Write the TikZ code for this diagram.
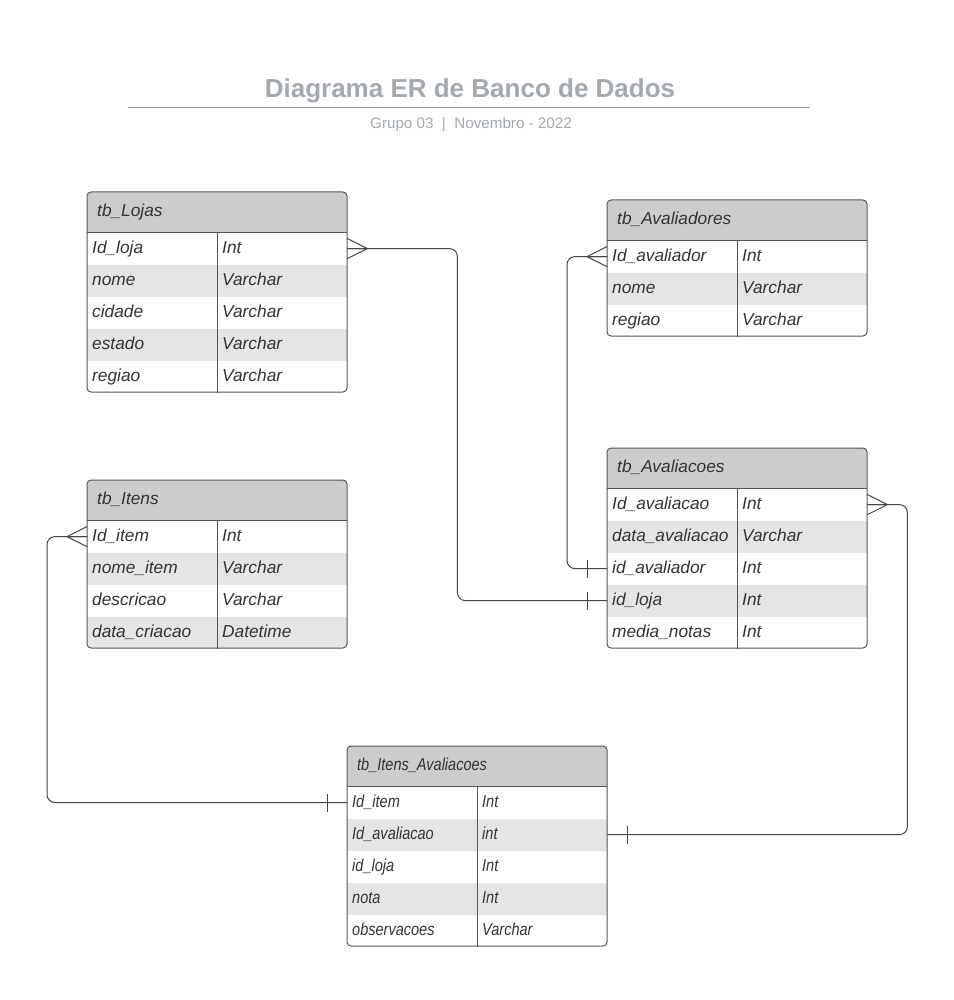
\documentclass[tikz,border=0pt]{standalone}
\usepackage{fontspec}
\setmainfont{Liberation Sans}
\newfontfamily\estreita[FakeStretch=0.84]{Liberation Sans}
\usepackage{xcolor}
\usetikzlibrary{calc}

\definecolor{cabecalho}{HTML}{CCCCCC}
\definecolor{zebra}{HTML}{E5E5E5}
\definecolor{borda}{HTML}{555555}
\definecolor{texto}{HTML}{333333}
\definecolor{cinzatitulo}{HTML}{A3A9AE}

\newcommand{\fonte}{\normalfont}

\tikzset{
    cabec/.style={anchor=north west, minimum width=260pt, minimum height=40pt, inner sep=0pt, fill=cabecalho},
    linha/.style={anchor=north west, minimum width=260pt, minimum height=32pt, inner sep=0pt},
    campo/.style={anchor=base west, inner sep=0pt, text=texto, font=\fonte\fontsize{17.3}{20}\selectfont\itshape},
    contorno/.style={draw=borda, line width=1pt},
    conector/.style={draw=borda!80!black, line width=1pt},
    titulo/.style={anchor=base, inner sep=0pt, text=cinzatitulo, font=\bfseries\fontsize{26}{30}\selectfont},
    subtitulo/.style={anchor=base, inner sep=0pt, text=cinzatitulo, font=\fontsize{15.2}{18}\selectfont},
    muitos/.pic={\draw[conector] (0,-10) -- (20,0) -- (0,10) (0,0) -- (20,0);},
    um/.pic={\draw[conector] (20,-9) -- (20,9);}
}

% #1 nome, #2 canto, #3 linhas, #4 titulo, #5 campos
\newcommand{\tabela}[5]{%
        \begin{scope}
            \clip[rounded corners=4pt] #2 rectangle ++(260,{40+32*#3});
            \node[cabec] (#1) at #2 {};
            \foreach \campo/\tipo [count=\i] in {#5} {
                \ifodd\i \def\cor{white}\else \def\cor{zebra}\fi
                \node[linha, fill=\cor] (#1-\i) at ($(#1.south west)+(0,{32*(\i-1)})$) {};
            }
        \end{scope}
        \node[campo] (#1-nome) at ($(#1.west)+(10,4)$) {#4};
        \foreach \campo/\tipo [count=\i] in {#5} {
            \node[campo] (#1-\i-c) at ($(#1-\i.west)+(5,5)$) {\campo};
            \node[campo] (#1-\i-t) at ($(#1-\i.west)+(135,5)$) {\tipo};
        }
        \draw[contorno] (#1.south west) -- (#1.south east);
        \draw[contorno] ($(#1-1.north west)+(130,0)$) -- ($(#1-#3.south west)+(130,0)$);
        \draw[contorno, rounded corners=4pt] #2 rectangle ++(260,{40+32*#3});
}

\begin{document}
\begin{tikzpicture}[x=1pt, y=-1pt]
        \fill[white] (0,0) rectangle (953,1000);
        \useasboundingbox (0,0) rectangle (953,1000);

        \node[titulo] (titulo) at (470,98) {Diagrama ER de Banco de Dados};
        \draw[draw=cinzatitulo!90!black, line width=1.6pt] (128,107.5) -- (810,107.5);
        \node[subtitulo] (subtitulo) at (471,129) {Grupo 03\ \ |\ \ Novembro - 2022};

        \tabela{lojas}{(87,192)}{5}{tb\_Lojas}{Id\_loja/Int, nome/Varchar, cidade/Varchar, estado/Varchar, regiao/Varchar}
        \tabela{avaliadores}{(607,200)}{3}{tb\_Avaliadores}{Id\_avaliador/Int, nome/Varchar, regiao/Varchar}
        \tabela{avaliacoes}{(607,448)}{5}{tb\_Avaliacoes}{Id\_avaliacao/Int, data\_avaliacao/Varchar, id\_avaliador/Int, id\_loja/Int, media\_notas/Int}
        \tabela{itens}{(87,480)}{4}{tb\_Itens}{Id\_item/Int, nome\_item/Varchar, descricao/Varchar, data\_criacao/Datetime}
        \begin{scope}
            \renewcommand{\fonte}{\estreita}
            \tabela{itensaval}{(347,746)}{5}{tb\_Itens\_Avaliacoes}{Id\_item/Int, Id\_avaliacao/int, id\_loja/Int, nota/Int, observacoes/Varchar}
        \end{scope}

        \draw[conector, rounded corners=8pt] (lojas-1.east) -- ++(110,0) |- (avaliacoes-4.west);
        \pic at (lojas-1.east) {muitos};
        \pic[rotate=180] at (avaliacoes-4.west) {um};

        \draw[conector, rounded corners=8pt] (avaliadores-1.west) -- ++(-40,0) |- (avaliacoes-3.west);
        \pic[rotate=180] at (avaliadores-1.west) {muitos};
        \pic[rotate=180] at (avaliacoes-3.west) {um};

        \draw[conector, rounded corners=8pt] (itens-1.west) -- ++(-40,0) |- (itensaval-1.west);
        \pic[rotate=180] at (itens-1.west) {muitos};
        \pic[rotate=180] at (itensaval-1.west) {um};

        \draw[conector, rounded corners=8pt] (avaliacoes-1.east) -- ++(40,0) |- (itensaval-2.east);
        \pic at (avaliacoes-1.east) {muitos};
        \pic at (itensaval-2.east) {um};
\end{tikzpicture}
\end{document}
